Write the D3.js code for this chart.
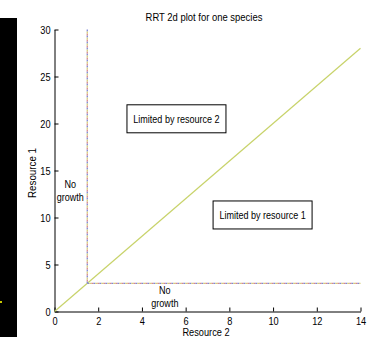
<!DOCTYPE html>
<html><head><meta charset="utf-8">
<script src="https://cdn.jsdelivr.net/npm/d3@7"></script>
<style>
body{margin:0;background:#fff;}
svg{display:block;font-family:"Liberation Sans",Arial,sans-serif;}
</style></head><body>
<svg id="c" width="371" height="337"></svg>
<script>
const xTicks = [0,2,4,6,8,10,12,14];
const yTicks = [0,5,10,15,20,25,30];
const rStar2 = 1.5;   // R* for resource 2
const rStar1 = 3;     // R* for resource 1
const diagX = [0, 14];
const diagY = [0, 28];
const title = "RRT 2d plot for one species";
const xLabel = "Resource 2";
const yLabel = "Resource 1";
const regionLabels = [
  {text:["Limited by resource 2"], x:5.58, y:20.5, box:true},
  {text:["Limited by resource 1"], x:9.52, y:10.27, box:true},
  {text:["No","growth"], x:0.72, y:12.9, box:false},
  {text:["No","growth"], x:5.05, y:1.6, box:false}
];

const FONT = "'Liberation Sans',Arial,sans-serif";
function squeeze(node, f){
  const w = node.getComputedTextLength();
  node.setAttribute("textLength", w*f);
  node.setAttribute("lengthAdjust","spacingAndGlyphs");
}
const svg = d3.select("#c");
// black band at left
svg.append("rect").attr("x",0).attr("y",18).attr("width",17).attr("height",319).attr("fill","#000");
svg.append("rect").attr("x",0).attr("y",301).attr("width",2).attr("height",2).attr("fill","#c8c800");

const x = d3.scaleLinear().domain([0,14]).range([54.5,360.5]);
const y = d3.scaleLinear().domain([0,30]).range([311.5,29.5]);

const g = svg.append("g");
const xAxis = d3.axisBottom(x).tickValues(xTicks).tickSizeInner(-4).tickSizeOuter(0).tickPadding(5);
const yAxis = d3.axisLeft(y).tickValues(yTicks).tickSizeInner(-4).tickSizeOuter(0).tickPadding(4);
const gx = g.append("g").attr("transform",`translate(0,${y(0)})`).call(xAxis);
const gy = g.append("g").attr("transform",`translate(${x(0)},0)`).call(yAxis);
[gx,gy].forEach(a=>{
  a.selectAll("path,line").attr("stroke","#000");
  a.selectAll("text").attr("font-size",11.5).attr("fill","#000").attr("font-family",FONT)
    .each(function(){ squeeze(this, 0.8); });
});

// diagonal
svg.append("line").attr("x1",x(diagX[0])).attr("y1",y(diagY[0])).attr("x2",x(diagX[1])).attr("y2",y(diagY[1]))
  .attr("stroke","#c8d36a").attr("stroke-width",1.2);

// ZNGI lines (multicolour dotted)
const zngi = [[rStar2,30,rStar2,rStar1],[rStar2,rStar1,14,rStar1]];
const cols = [["#7f86d6","0"],["#d98a8a","2"],["#d4cf7a","4"]];
zngi.forEach(s=>{
  cols.forEach(([c,off])=>{
    svg.append("line").attr("x1",x(s[0])).attr("y1",y(s[1])).attr("x2",x(s[2])).attr("y2",y(s[3]))
      .attr("stroke",c).attr("stroke-width",1.3).attr("stroke-dasharray","2,4").attr("stroke-dashoffset",off);
  });
});

// labels
const fs = 10.5;
regionLabels.forEach(l=>{
  const cx = x(l.x), cy = y(l.y);
  const t = svg.append("text").attr("x",cx).attr("y",cy).attr("text-anchor","middle")
    .attr("font-size",fs).attr("font-family",FONT);
  l.text.forEach((s,i)=>{
    const ts = t.append("tspan").attr("x",cx).attr("dy",i===0?(-(l.text.length-1)*6.5+3.8):13).text(s);
    squeeze(ts.node(), 0.86);
  });
  if(l.box){
    svg.insert("rect",()=>t.node()).attr("x",cx-49.5).attr("y",cy-14).attr("width",99).attr("height",28)
      .attr("fill","#fff").attr("stroke","#000").attr("stroke-width",1);
  }
});

const tt = svg.append("text").attr("x",204).attr("y",21).attr("text-anchor","middle").attr("font-size",10.5)
  .attr("font-family",FONT).text(title);
squeeze(tt.node(), 0.9);
const xl = svg.append("text").attr("x",206).attr("y",335.5).attr("text-anchor","middle").attr("font-size",10)
  .attr("font-family",FONT).text(xLabel);
squeeze(xl.node(), 0.92);
const yl = svg.append("text").attr("transform","translate(35.5,173) rotate(-90)").attr("text-anchor","middle").attr("font-size",11.5)
  .attr("font-family",FONT).text(yLabel);
squeeze(yl.node(), 0.85);
</script></body></html>
